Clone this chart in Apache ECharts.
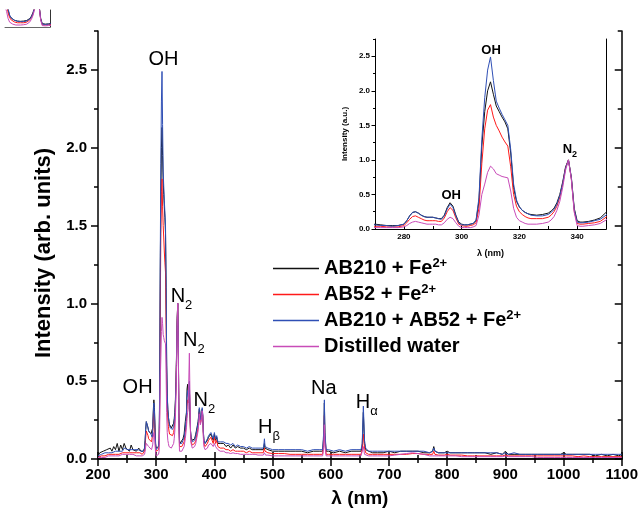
<!DOCTYPE html>
<html><head><meta charset="utf-8">
<script src="https://cdn.jsdelivr.net/npm/echarts@6/dist/echarts.min.js"></script>
<style>html,body{margin:0;padding:0;background:#fff}#c{width:641px;height:522px}</style>
</head><body><div id="c"></div>
<script>
// ---------------- DATA ----------------
const seriesNames = ['AB210 + Fe2+', 'AB52 + Fe2+', 'AB210 + AB52 + Fe2+', 'Distilled water'];
const xTicksMain = [200, 300, 400, 500, 600, 700, 800, 900, 1000, 1100];
const yTicksMain = [0.0, 0.5, 1.0, 1.5, 2.0, 2.5];
const xTicksInset = [280, 300, 320, 340];

const wavelength = [
  200,203,206,209,212,215,218,221,224,227,230,233,236,239,242,245,248,251,254,257,260,263,266,269,
  270,272,274,276,278,280,
  281,282,283,284,285,286,287,288,289,290,
  291,292,293,294,295,296,297,298,299,300,
  301,302,303,304,305,306,307,308,309,310,
  311,312,313,314,315,316,317,318,319,320,
  321,322,323,324,
  326,328,330,
  331,332,333,334,335,336,337,338,339,340,
  341,342,
  344,346,348,350,
  352,353,354,355,356,357,358,359,360,
  362,364,366,368,370,372,
  373,374,375,376,377,378,379,380,381,382,
  384,386,388,390,392,394,396,398,400,402,404,406,408,410,
  412,416,420,424,428,432,436,440,445,450,
  455,460,465,470,475,480,484,485,486,487,
  488,492,500,510,520,530,540,550,560,570,
  580,586,588,589,590,592,596,605,615,625,
  635,645,652,654,656,658,660,665,672,680,
  690,700,710,720,730,740,750,760,770,775,
  777,779,785,795,800,805,815,825,835,843,
  845,847,855,865,875,885,895,900,905,915,
  925,935,945,955,965,975,985,995,1000,1005,
  1015,1025,1035,1045,1055,1065,1075,1085,1095,1100
];

const ab210 = [
  0.02,0.04,0.03,0.05,0.04,0.06,0.05,0.07,0.05,0.08,0.06,0.10,0.05,0.09,0.06,0.10,0.07,0.08,0.05,0.09,0.06,0.07,0.05,0.06,
  0.07,0.06,0.05,0.05,0.05,0.07,
  0.12,0.19,0.24,0.25,0.23,0.20,0.18,0.17,0.17,0.17,
  0.16,0.15,0.15,0.20,0.31,0.38,0.33,0.20,0.10,0.07,
  0.06,0.06,0.07,0.08,0.12,0.40,1.20,1.70,2.00,2.13,
  1.95,1.78,1.70,1.62,1.55,1.45,1.10,0.60,0.40,0.32,
  0.27,0.24,0.22,0.21,
  0.20,0.21,0.23,
  0.26,0.30,0.38,0.50,0.68,0.90,1.00,0.75,0.30,0.12,
  0.10,0.10,
  0.11,0.13,0.16,0.24,
  0.30,0.45,0.48,0.42,0.40,0.46,0.30,0.18,0.14,
  0.12,0.12,0.13,0.16,0.20,0.24,
  0.28,0.32,0.30,0.25,0.25,0.28,0.32,0.28,0.18,0.12,
  0.10,0.10,0.12,0.14,0.15,0.16,0.14,0.12,0.16,0.12,0.14,0.10,0.09,0.10,
  0.09,0.10,0.08,0.09,0.07,0.09,0.07,0.08,0.07,0.07,
  0.06,0.07,0.06,0.06,0.06,0.06,0.06,0.08,0.10,0.07,
  0.06,0.06,0.05,0.05,0.05,0.05,0.05,0.05,0.04,0.05,
  0.05,0.05,0.15,0.36,0.15,0.05,0.05,0.04,0.05,0.04,
  0.05,0.05,0.05,0.08,0.30,0.10,0.06,0.05,0.04,0.04,
  0.04,0.05,0.04,0.05,0.05,0.05,0.05,0.04,0.04,0.05,
  0.08,0.05,0.04,0.04,0.05,0.04,0.04,0.04,0.04,0.04,
  0.05,0.04,0.04,0.04,0.03,0.04,0.03,0.05,0.03,0.03,
  0.03,0.03,0.03,0.03,0.03,0.03,0.03,0.03,0.04,0.03,
  0.03,0.03,0.03,0.03,0.02,0.03,0.02,0.03,0.02,0.03
];

const ab52 = [
  0.01,0.02,0.02,0.02,0.02,0.03,0.03,0.03,0.03,0.04,0.03,0.04,0.03,0.04,0.04,0.05,0.04,0.04,0.04,0.05,0.04,0.04,0.04,0.04,
  0.04,0.04,0.03,0.03,0.03,0.05,
  0.09,0.14,0.18,0.19,0.17,0.15,0.13,0.12,0.12,0.12,
  0.12,0.11,0.11,0.16,0.25,0.31,0.27,0.16,0.07,0.05,
  0.04,0.04,0.05,0.06,0.09,0.30,0.95,1.45,1.72,1.80,
  1.62,1.50,1.42,1.33,1.26,1.20,0.90,0.50,0.33,0.25,
  0.21,0.18,0.16,0.15,
  0.15,0.15,0.17,
  0.20,0.25,0.33,0.46,0.65,0.88,1.00,0.72,0.26,0.08,
  0.07,0.07,
  0.08,0.09,0.11,0.17,
  0.24,0.34,0.38,0.36,0.40,0.47,0.30,0.16,0.11,
  0.09,0.09,0.10,0.12,0.16,0.20,
  0.24,0.30,0.29,0.23,0.23,0.26,0.31,0.27,0.16,0.10,
  0.08,0.08,0.10,0.12,0.13,0.14,0.12,0.10,0.14,0.10,0.12,0.08,0.07,0.07,
  0.06,0.07,0.06,0.06,0.05,0.06,0.05,0.05,0.05,0.05,
  0.04,0.05,0.04,0.04,0.04,0.04,0.04,0.05,0.07,0.05,
  0.04,0.04,0.035,0.035,0.035,0.03,0.03,0.03,0.03,0.03,
  0.03,0.03,0.12,0.28,0.12,0.03,0.03,0.03,0.03,0.03,
  0.03,0.03,0.03,0.06,0.16,0.07,0.04,0.03,0.03,0.03,
  0.03,0.03,0.03,0.03,0.03,0.035,0.035,0.03,0.03,0.03,
  0.05,0.03,0.025,0.025,0.03,0.025,0.025,0.025,0.02,0.02,
  0.025,0.02,0.02,0.02,0.02,0.02,0.02,0.025,0.02,0.02,
  0.02,0.02,0.02,0.02,0.02,0.02,0.02,0.02,0.02,0.02,
  0.02,0.015,0.02,0.015,0.015,0.015,0.015,0.015,0.015,0.015
];

const ab210ab52 = [
  0.02,0.03,0.03,0.03,0.04,0.04,0.04,0.05,0.04,0.05,0.05,0.06,0.05,0.06,0.05,0.07,0.06,0.06,0.05,0.06,0.06,0.06,0.05,0.06,
  0.06,0.05,0.05,0.04,0.05,0.07,
  0.12,0.19,0.24,0.25,0.23,0.20,0.18,0.17,0.17,0.17,
  0.16,0.15,0.14,0.19,0.29,0.36,0.31,0.19,0.09,0.06,
  0.06,0.06,0.07,0.08,0.13,0.45,1.30,1.90,2.30,2.49,
  2.15,1.85,1.75,1.66,1.58,1.50,1.15,0.65,0.42,0.32,
  0.27,0.24,0.22,0.20,
  0.19,0.19,0.21,
  0.24,0.28,0.36,0.48,0.66,0.88,1.00,0.74,0.28,0.10,
  0.09,0.09,
  0.10,0.12,0.14,0.20,
  0.28,0.40,0.44,0.40,0.42,0.50,0.32,0.18,0.13,
  0.11,0.11,0.12,0.15,0.19,0.23,
  0.27,0.33,0.31,0.25,0.25,0.28,0.33,0.29,0.18,0.12,
  0.10,0.11,0.13,0.15,0.16,0.17,0.15,0.13,0.17,0.13,0.15,0.11,0.10,0.11,
  0.10,0.11,0.10,0.10,0.09,0.10,0.08,0.09,0.08,0.08,
  0.07,0.08,0.07,0.07,0.07,0.07,0.07,0.09,0.13,0.08,
  0.07,0.07,0.06,0.06,0.06,0.06,0.06,0.06,0.05,0.06,
  0.06,0.06,0.18,0.38,0.17,0.06,0.06,0.05,0.06,0.05,
  0.06,0.06,0.06,0.10,0.34,0.12,0.07,0.05,0.05,0.05,
  0.05,0.05,0.05,0.05,0.05,0.05,0.05,0.05,0.04,0.05,
  0.07,0.05,0.04,0.04,0.04,0.04,0.04,0.04,0.04,0.04,
  0.05,0.04,0.04,0.04,0.04,0.04,0.03,0.04,0.03,0.04,
  0.03,0.03,0.03,0.03,0.03,0.03,0.03,0.03,0.03,0.03,
  0.03,0.03,0.03,0.03,0.03,0.03,0.03,0.03,0.03,0.03
];

const water = [
  0.01,0.01,0.01,0.02,0.01,0.02,0.02,0.02,0.02,0.03,0.02,0.03,0.02,0.03,0.03,0.04,0.03,0.03,0.03,0.03,0.03,0.03,0.02,0.02,
  0.02,0.02,0.02,0.02,0.02,0.03,
  0.05,0.08,0.10,0.11,0.10,0.09,0.08,0.07,0.07,0.07,
  0.07,0.06,0.06,0.09,0.14,0.17,0.15,0.09,0.04,0.02,
  0.02,0.02,0.02,0.03,0.05,0.20,0.50,0.65,0.82,0.91,
  0.87,0.80,0.78,0.76,0.75,0.74,0.55,0.30,0.17,0.12,
  0.10,0.08,0.07,0.07,
  0.07,0.08,0.10,
  0.13,0.18,0.27,0.40,0.60,0.85,1.00,0.72,0.24,0.05,
  0.04,0.04,
  0.05,0.06,0.08,0.13,
  0.20,0.26,0.30,0.32,0.50,0.68,0.42,0.18,0.10,
  0.07,0.07,0.08,0.10,0.14,0.18,
  0.22,0.29,0.30,0.22,0.22,0.26,0.31,0.28,0.14,0.08,
  0.06,0.06,0.07,0.09,0.10,0.10,0.09,0.08,0.10,0.08,0.09,0.06,0.05,0.05,
  0.04,0.05,0.04,0.04,0.035,0.04,0.035,0.035,0.03,0.03,
  0.03,0.03,0.03,0.03,0.025,0.025,0.025,0.03,0.04,0.03,
  0.025,0.025,0.02,0.02,0.02,0.02,0.02,0.02,0.02,0.02,
  0.02,0.02,0.08,0.22,0.08,0.02,0.02,0.02,0.02,0.02,
  0.02,0.02,0.02,0.03,0.08,0.03,0.02,0.02,0.02,0.02,
  0.02,0.02,0.025,0.03,0.035,0.04,0.035,0.03,0.02,0.02,
  0.03,0.02,0.02,0.02,0.02,0.02,0.02,0.015,0.015,0.015,
  0.02,0.015,0.015,0.015,0.015,0.015,0.015,0.02,0.015,0.015,
  0.015,0.015,0.015,0.01,0.01,0.01,0.01,0.01,0.01,0.01,
  0.01,0.01,0.01,0.01,0.01,0.01,0.01,0.01,0.01,0.01
];

// Peak annotations: [wavelength, intensity, main text, sub text]
const mainLabels = [
  [312.5, 2.57, 'OH', ''],
  [268, 0.46, 'OH', ''],
  [343.5, 1.045, 'N', '2'],
  [364.7, 0.763, 'N', '2'],
  [382.7, 0.378, 'N', '2'],
  [494, 0.20, 'H', 'β'],
  [588, 0.45, 'Na', ''],
  [661.7, 0.365, 'H', 'α']
];
const insetLabels = [
  [310.2, 2.59, 'OH', ''],
  [296.4, 0.49, 'OH', ''],
  [337.5, 1.155, 'N', '2']
];

// ---------------- CHART ----------------
const colors = ['#111111', '#ff1a1a', '#2f4fb5', '#c84bb8'];
const valuesList = [ab210, ab52, ab210ab52, water];
const FONT = 'Arial, "Liberation Sans", sans-serif';
const legendRich = {
  'AB210 + Fe2+': '{n|AB210 + Fe}{s|2+}',
  'AB52 + Fe2+': '{n|AB52 + Fe}{s|2+}',
  'AB210 + AB52 + Fe2+': '{n|AB210 + AB52 + Fe}{s|2+}',
  'Distilled water': '{n|Distilled water}{s| }'
};

function pairs(vals) { return wavelength.map((w, i) => [w, vals[i]]); }

function labelData(list) {
  return list.map(l => ({
    coord: [l[0], l[1]],
    label: {
      formatter: l[3] ? '{m|' + l[2] + '}{s|' + l[3] + '}' : '{m|' + l[2] + '}'
    }
  }));
}
function labelRich(big, small, shift, weight) {
  return {
    m: { fontFamily: FONT, fontSize: big, fontWeight: weight, color: '#000' },
    s: { fontFamily: FONT, fontSize: small, fontWeight: weight, color: '#000', padding: [shift, 0, 0, 0] }
  };
}

const series = [];
// main
valuesList.forEach((v, i) => {
  const s = {
    name: seriesNames[i], type: 'line', xAxisIndex: 0, yAxisIndex: 0,
    data: pairs(v), showSymbol: false, symbol: 'none',
    lineStyle: { color: colors[i], width: 1 }, itemStyle: { color: colors[i] },
    z: 2 + i, silent: true
  };
  if (i === 3) {
    s.markPoint = {
      symbol: 'circle', symbolSize: 1, itemStyle: { color: 'rgba(0,0,0,0)' },
      label: { show: true, position: 'inside', rich: labelRich(20, 13, 18, 'normal') },
      data: labelData(mainLabels), silent: true
    };
  }
  series.push(s);
});
// inset
valuesList.forEach((v, i) => {
  const s = {
    name: seriesNames[i], type: 'line', xAxisIndex: 2, yAxisIndex: 4,
    data: pairs(v), showSymbol: false, symbol: 'none',
    lineStyle: { color: colors[i], width: 1 }, itemStyle: { color: colors[i] },
    z: 2 + i, silent: true, clip: true
  };
  if (i === 3) {
    s.markPoint = {
      symbol: 'circle', symbolSize: 1, itemStyle: { color: 'rgba(0,0,0,0)' },
      label: { show: true, position: 'inside', rich: labelRich(13, 9, 10, 'bold') },
      data: labelData(insetLabels), silent: true
    };
  }
  series.push(s);
});
// thumbnail
valuesList.forEach((v, i) => {
  series.push({
    name: seriesNames[i], type: 'line', xAxisIndex: 4, yAxisIndex: 7,
    data: pairs(v), showSymbol: false, symbol: 'none',
    lineStyle: { color: colors[i], width: 1 }, itemStyle: { color: colors[i] },
    z: 2 + i, silent: true, clip: true
  });
});

const axLine = { show: true, lineStyle: { color: '#000', width: 1.5 } };
const thinLine = { show: true, lineStyle: { color: '#000', width: 1 } };
const noSplit = { show: false };

const option = {
  animation: false,
  grid: [
    { left: 98, right: 17, top: 31, bottom: 63 },
    { left: 375, top: 39, width: 231, height: 190 },
    { left: 5, top: 10, width: 45, height: 17 }
  ],
  legend: {
    data: seriesNames, orient: 'vertical', left: 268, top: 252,
    itemWidth: 46, itemHeight: 1.5, itemGap: 3, selectedMode: false, icon: 'rect',
    formatter: n => legendRich[n],
    textStyle: {
      fontFamily: FONT, fontWeight: 'bold', fontSize: 20, color: '#000',
      rich: {
        n: { fontFamily: FONT, fontWeight: 'bold', fontSize: 20, color: '#000', lineHeight: 22 },
        s: { fontFamily: FONT, fontWeight: 'bold', fontSize: 13, color: '#000', lineHeight: 14, padding: [0, 0, 10, 0] }
      }
    }
  },
  xAxis: [
    { gridIndex: 0, type: 'value', position: 'bottom', min: 200, max: 1100, interval: 100,
      axisLine: axLine, splitLine: noSplit,
      axisTick: { inside: true, length: 7, lineStyle: { width: 1.5, color: '#000' } },
      minorTick: { show: true, splitNumber: 2, length: 4, lineStyle: { width: 1.5, color: '#000' } },
      axisLabel: { margin: 8, fontFamily: FONT, fontWeight: 'bold', fontSize: 15, color: '#000',
        formatter: v => String(v) },
      name: 'λ (nm)', nameLocation: 'middle', nameGap: 30,
      nameTextStyle: { fontFamily: FONT, fontWeight: 'bold', fontSize: 19, color: '#000' } },
    { gridIndex: 0, type: 'value', position: 'top', min: 200, max: 1100, interval: 100,
      axisLine: axLine, splitLine: noSplit,
      axisTick: { inside: true, length: 7, lineStyle: { width: 1.5, color: '#000' } },
      minorTick: { show: true, splitNumber: 2, length: 4, lineStyle: { width: 1.5, color: '#000' } },
      axisLabel: { show: false } },
    { gridIndex: 1, type: 'value', position: 'bottom', min: 270, max: 350, interval: 10,
      axisLine: thinLine, splitLine: noSplit,
      axisTick: { inside: true, length: 3, lineStyle: { width: 1, color: '#000' } },
      axisLabel: { margin: 4, fontFamily: FONT, fontWeight: 'bold', fontSize: 8, color: '#000',
        formatter: v => (xTicksInset.indexOf(v) >= 0 ? String(v) : '') },
      name: 'λ (nm)', nameLocation: 'middle', nameGap: 20,
      nameTextStyle: { fontFamily: FONT, fontWeight: 'bold', fontSize: 9, color: '#000' } },
    { gridIndex: 1, type: 'value', position: 'top', min: 270, max: 350,
      axisLine: thinLine, splitLine: noSplit, axisTick: { show: false }, axisLabel: { show: false } },
    { gridIndex: 2, type: 'value', position: 'bottom', min: 316, max: 345,
      axisLine: { show: true, lineStyle: { color: '#000', width: 0.6 } }, splitLine: noSplit,
      axisTick: { show: false }, axisLabel: { show: false } },
    { gridIndex: 2, type: 'value', position: 'top', min: 316, max: 345,
      axisLine: { show: false }, splitLine: noSplit, axisTick: { show: false }, axisLabel: { show: false } }
  ],
  yAxis: [
    { gridIndex: 0, type: 'value', position: 'left', min: 0, max: 2.75, interval: 0.25,
      axisLine: axLine, splitLine: noSplit,
      axisTick: { inside: false, length: 4, lineStyle: { width: 1.5, color: '#000' } },
      axisLabel: { margin: 11, fontFamily: FONT, fontWeight: 'bold', fontSize: 15, color: '#000',
        formatter: v => (yTicksMain.some(t => Math.abs(t - v) < 1e-6) ? v.toFixed(1) : '') },
      name: 'Intensity (arb. units)', nameLocation: 'middle', nameGap: 42,
      nameTextStyle: { fontFamily: FONT, fontWeight: 'bold', fontSize: 22, color: '#000', padding: [0, 16, 0, 0] } },
    { gridIndex: 0, type: 'value', position: 'left', min: 0, max: 2.75, interval: 0.5,
      axisLine: { show: false }, splitLine: noSplit,
      axisTick: { inside: false, length: 7, customValues: yTicksMain, lineStyle: { width: 1.5, color: '#000' } },
      axisLabel: { show: false } },
    { gridIndex: 0, type: 'value', position: 'right', min: 0, max: 2.75, interval: 0.25,
      axisLine: axLine, splitLine: noSplit,
      axisTick: { inside: true, length: 4, lineStyle: { width: 1.5, color: '#000' } },
      axisLabel: { show: false } },
    { gridIndex: 0, type: 'value', position: 'right', min: 0, max: 2.75, interval: 0.5,
      axisLine: { show: false }, splitLine: noSplit,
      axisTick: { inside: true, length: 7, customValues: yTicksMain, lineStyle: { width: 1.5, color: '#000' } },
      axisLabel: { show: false } },
    { gridIndex: 1, type: 'value', position: 'left', min: 0, max: 2.75, interval: 0.25,
      axisLine: thinLine, splitLine: noSplit,
      axisTick: { inside: false, length: 2, lineStyle: { width: 1, color: '#000' } },
      axisLabel: { margin: 5, fontFamily: FONT, fontWeight: 'bold', fontSize: 8, color: '#000',
        formatter: v => (yTicksMain.some(t => Math.abs(t - v) < 1e-6) ? v.toFixed(1) : '') },
      name: 'Intensity (a.u.)', nameLocation: 'middle', nameGap: 26,
      nameTextStyle: { fontFamily: FONT, fontWeight: 'bold', fontSize: 8, color: '#000' } },
    { gridIndex: 1, type: 'value', position: 'left', min: 0, max: 2.75, interval: 0.5,
      axisLine: { show: false }, splitLine: noSplit,
      axisTick: { inside: false, length: 3.5, customValues: yTicksMain, lineStyle: { width: 1, color: '#000' } },
      axisLabel: { show: false } },
    { gridIndex: 1, type: 'value', position: 'right', min: 0, max: 2.75,
      axisLine: thinLine, splitLine: noSplit, axisTick: { show: false }, axisLabel: { show: false } },
    { gridIndex: 2, type: 'value', position: 'left', min: 0, max: 0.6,
      axisLine: { show: false }, splitLine: noSplit, axisTick: { show: false }, axisLabel: { show: false } },
    { gridIndex: 2, type: 'value', position: 'right', min: 0, max: 0.6,
      axisLine: { show: true, lineStyle: { color: '#000', width: 0.8 } }, splitLine: noSplit,
      axisTick: { show: false }, axisLabel: { show: false } }
  ],
  series: series
};

const chart = echarts.init(document.getElementById('c'), null, { renderer: 'canvas' });
chart.setOption(option);
</script>
</body></html>
